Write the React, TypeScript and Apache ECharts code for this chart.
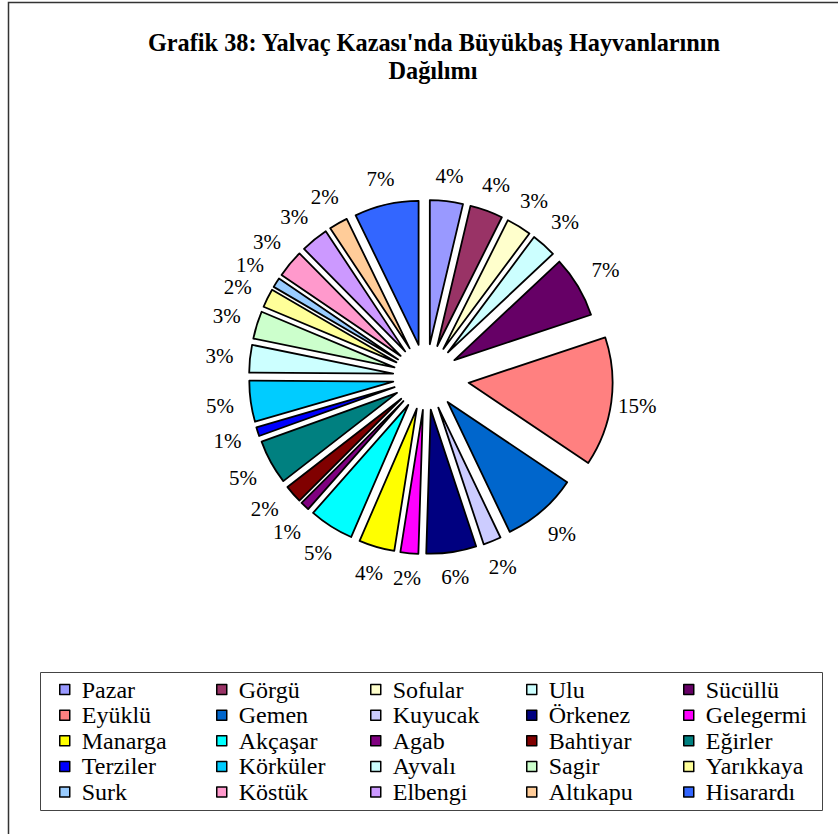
import React, { useEffect, useRef } from 'react';
import * as echarts from 'echarts';

const categories = ['Pazar', 'Görgü', 'Sofular', 'Ulu', 'Sücüllü', 'Eyüklü', 'Gemen', 'Kuyucak', 'Örkenez', 'Gelegermi', 'Manarga', 'Akçaşar', 'Agab', 'Bahtiyar', 'Eğirler', 'Terziler', 'Körküler', 'Ayvalı', 'Sagir', 'Yarıkkaya', 'Surk', 'Köstük', 'Elbengi', 'Altıkapu', 'Hisarardı'];
// shares (%); labels show them rounded
const shares = [3.7, 3.7, 2.8, 2.8, 6.9, 14.5, 8.5, 2.0, 5.6, 2.0, 4.0, 5.0, 1.0, 2.0, 5.0, 1.0, 4.6, 3.1, 3.1, 2.1, 1.1, 3.1, 3.1, 2.1, 7.2];
const colors = ['#9999FF', '#993366', '#FFFFCC', '#CCFFFF', '#660066', '#FF8080', '#0066CC', '#CCCCFF', '#000080', '#FF00FF', '#FFFF00', '#00FFFF', '#800080', '#800000', '#008080', '#0000FF', '#00CCFF', '#CCFFFF', '#CCFFCC', '#FFFF99', '#99CCFF', '#FF99CC', '#CC99FF', '#FFCC99', '#3366FF'];
const titleLines = ["Grafik 38: Yalvaç Kazası'nda Büyükbaş Hayvanlarının", 'Dağılımı'];
const highlighted = 'Eyüklü';

const FONT = 'Liberation Serif, serif';
const LABEL_FS = 21;

export default function App() {
  const ref = useRef<HTMLDivElement>(null);
  useEffect(() => {
    document.body.style.margin = '0';
    if (!ref.current) return;
    const chart = echarts.init(ref.current, undefined, { renderer: 'svg' });
    const cx = 426;
    const cy = 377;
    const R = 144;
    const hidden = { color: 'transparent', borderWidth: 0 };
    const n = categories.length;

    // label layout: Excel-like "outside end" placement, with simple collision spreading
    const total = shares.reduce((a, b) => a + b, 0);
    const texts = shares.map((v) => `${Math.round(v)}%`);
    const W = texts.map((t) => (0.5 * (t.length - 1) + 0.833) * LABEL_FS);
    const H = 20;
    const mids: number[] = [];
    let cum = 0;
    shares.forEach((v) => {
      mids.push(((cum + v / 2) / total) * 2 * Math.PI);
      cum += v;
    });
    const theta = mids.slice();
    const D0 = 193;
    const posOf = (i: number) => {
      const dx = Math.sin(theta[i]);
      const dy = -Math.cos(theta[i]);
      const D = D0 + (W[i] / 2) * Math.abs(dx) + 7.5 * Math.abs(dy);
      return [cx + D * dx, cy + D * dy];
    };
    for (let it = 0; it < 600; it++) {
      let moved = false;
      for (let i = 0; i < n; i++) {
        const j = (i + 1) % n;
        const a = posOf(i);
        const b = posOf(j);
        if (Math.abs(a[0] - b[0]) < (W[i] + W[j]) / 2 + 2 && Math.abs(a[1] - b[1]) < H + 2) {
          theta[i] -= 0.003;
          theta[j] += 0.003;
          moved = true;
        }
      }
      if (!moved) break;
    }
    const B = 193; // ring [187,193] puts inside labels at (187+193)/2 + 3
    const paddings = categories.map((_, i) => {
      const p = posOf(i);
      const bx = cx + B * Math.sin(mids[i]);
      const by = cy - B * Math.cos(mids[i]);
      const sx = p[0] - bx;
      const sy = p[1] - by;
      return [2 * Math.max(sy, 0), 2 * Math.max(-sx, 0), 2 * Math.max(-sy, 0), 2 * Math.max(sx, 0)];
    });

    const dataA = categories.map((name, i) => ({
      name,
      value: shares[i],
      selected: name !== highlighted,
      itemStyle: name === highlighted ? hidden : { color: colors[i] },
    }));
    const dataB = categories.map((name, i) => ({
      name,
      value: shares[i],
      selected: name === highlighted,
      itemStyle: name === highlighted ? { color: colors[i] } : hidden,
    }));
    const dataC = categories.map((name, i) => ({
      name,
      value: shares[i],
      itemStyle: hidden,
      label: { padding: paddings[i] },
    }));

    const pieBase = {
      type: 'pie',
      center: [cx, cy],
      startAngle: 90,
      clockwise: true,
      selectedMode: 'multiple',
      silent: true,
      emphasis: { disabled: true },
      avoidLabelOverlap: false,
      labelLayout: { hideOverlap: false },
      label: { show: false },
      labelLine: { show: false },
      itemStyle: { borderColor: '#000', borderWidth: 1.8 },
      select: { itemStyle: { borderColor: '#000', borderWidth: 1.8 } },
    };

    const legendCols = [59, 216, 370, 526, 683];

    chart.setOption({
      animation: false,
      backgroundColor: '#fff',
      graphic: [
        { type: 'rect', shape: { x: 8.5, y: 2.5, width: 840, height: 840 }, style: { fill: 'none', stroke: '#333', lineWidth: 1.5 }, silent: true },
        { type: 'rect', shape: { x: 40.5, y: 672.5, width: 782, height: 138 }, style: { fill: 'none', stroke: '#444', lineWidth: 1 }, silent: true },
        { type: 'text', x: 434, y: 42, style: { text: titleLines[0], font: `bold 24.3px ${FONT}`, fill: '#000', align: 'center', verticalAlign: 'middle', textAlign: 'center', textVerticalAlign: 'middle' } },
        { type: 'text', x: 433, y: 70, style: { text: titleLines[1], font: `bold 24.3px ${FONT}`, fill: '#000', align: 'center', verticalAlign: 'middle', textAlign: 'center', textVerticalAlign: 'middle' } },
      ],
      legend: legendCols.map((x, c) => ({
        orient: 'vertical',
        left: x,
        top: 677.6,
        padding: 0,
        itemGap: 1.6,
        itemWidth: 10,
        itemHeight: 10,
        icon: 'rect',
        selectedMode: false,
        itemStyle: { borderColor: '#000', borderWidth: 1.5, opacity: 1 },
        textStyle: { fontFamily: FONT, fontSize: 24, color: '#000', lineHeight: 24, padding: [0, 0, 0, 7] },
        data: categories
          .map((name, i) => ({ name, i }))
          .filter((d) => d.i % 5 === c)
          .map((d) => ({ name: d.name, itemStyle: { color: colors[d.i] } })),
      })),
      series: [
        { ...pieBase, name: 'A', radius: [0, R], selectedOffset: 33, data: dataA },
        { ...pieBase, name: 'B', radius: [0, R], selectedOffset: 43, data: dataB },
        {
          ...pieBase,
          name: 'C',
          selectedMode: false,
          radius: [187, 193],
          itemStyle: { color: 'transparent', borderWidth: 0 },
          label: {
            show: true,
            position: 'inside',
            formatter: (p: any) => `{v|${Math.round(p.value)}%}`,
            fontFamily: FONT,
            fontSize: LABEL_FS,
            color: '#000',
            rich: {
              v: { fontFamily: FONT, fontSize: LABEL_FS, color: '#000', lineHeight: 20 },
            },
          },
          data: dataC,
        },
      ],
    });
    return () => chart.dispose();
  }, []);
  return <div ref={ref} style={{ width: 838, height: 834 }} />;
}
